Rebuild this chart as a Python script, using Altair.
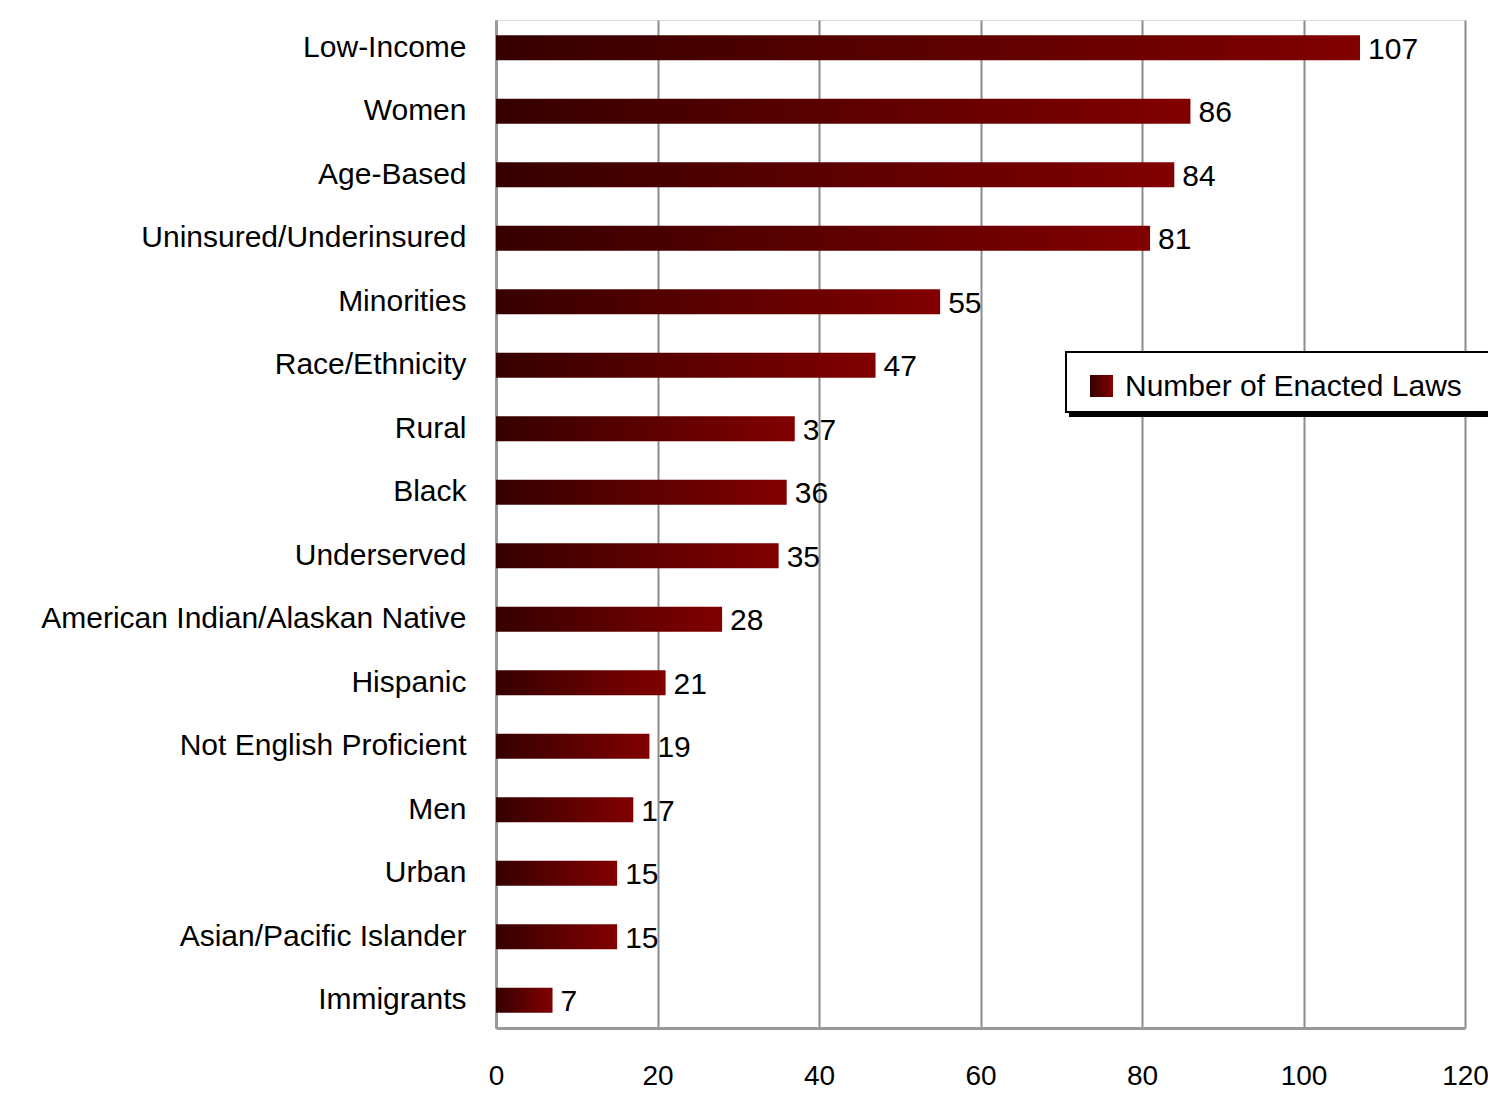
import altair as alt
import pandas as pd

categories = ["Low-Income", "Women", "Age-Based", "Uninsured/Underinsured", "Minorities ",
              "Race/Ethnicity", "Rural", "Black", "Underserved", "American Indian/Alaskan Native",
              "Hispanic", "Not English Proficient", "Men", "Urban", "Asian/Pacific Islander", "Immigrants"]
values = [107, 86, 84, 81, 55, 47, 37, 36, 35, 28, 21, 19, 17, 15, 15, 7]
series_name = "Number of Enacted Laws"

df = pd.DataFrame({"group": categories, "laws": values})

FONT = "Liberation Sans, Arial, sans-serif"
FS = 30
grad = alt.Gradient(gradient="linear", x1=0, x2=1, y1=0, y2=0,
                    stops=[alt.GradientStop(offset=0, color="#360000"),
                           alt.GradientStop(offset=1, color="#820000")])

x_enc = alt.X("laws:Q", scale=alt.Scale(domain=[0, 120], nice=False),
              axis=alt.Axis(values=[0, 20, 40, 60, 80, 100, 120], title=None, grid=True,
                            gridColor="#8c8c8c", gridWidth=2, domain=True, domainColor="#999999",
                            domainWidth=3, ticks=False, labelFont=FONT, labelFontSize=28,
                            labelColor="#000000", labelPadding=34, labelFlush=False))
y_enc = alt.Y("group:N", sort=categories,
              scale=alt.Scale(paddingInner=0.606, paddingOuter=0.241),
              axis=alt.Axis(title=None, domain=True, domainColor="#999999", domainWidth=3,
                            ticks=False, labelFont=FONT, labelFontSize=FS, labelColor="#000000",
                            labelPadding=30, labelLimit=600))

bars = alt.Chart(df).mark_bar(color=grad).encode(x=x_enc, y=y_enc)
labels = alt.Chart(df).mark_text(align="left", baseline="middle", dx=8, dy=2, font=FONT,
                                 fontSize=FS, color="#000000").encode(
    x="laws:Q", y=alt.Y("group:N", sort=categories), text="laws:Q")

leg_df = pd.DataFrame({"name": [series_name]})
shadow = alt.Chart(leg_df).mark_rect(color="#000000").encode(
    x=alt.value(573), x2=alt.value(1020), y=alt.value(337), y2=alt.value(397))
box = alt.Chart(leg_df).mark_rect(fill="#ffffff", stroke="#000000", strokeWidth=2).encode(
    x=alt.value(570), x2=alt.value(1020), y=alt.value(332), y2=alt.value(392))
sym = alt.Chart(leg_df).mark_rect(color=grad).encode(
    x=alt.value(594), x2=alt.value(617), y=alt.value(355), y2=alt.value(377))
ltxt = alt.Chart(leg_df).mark_text(align="left", baseline="middle", font=FONT, fontSize=FS,
                                  color="#000000").encode(
    x=alt.value(629), y=alt.value(367), text="name:N")

chart = alt.layer(bars, labels, shadow, box, sym, ltxt).properties(
    width=969, height=1008,
    autosize=alt.AutoSizeParams(type="none"),
    padding={"left": 488, "top": 12, "right": 23, "bottom": 64},
).configure_view(stroke=None).configure(background="#ffffff")

chart.save("out.html", embed_options={"renderer": "svg", "actions": False})
